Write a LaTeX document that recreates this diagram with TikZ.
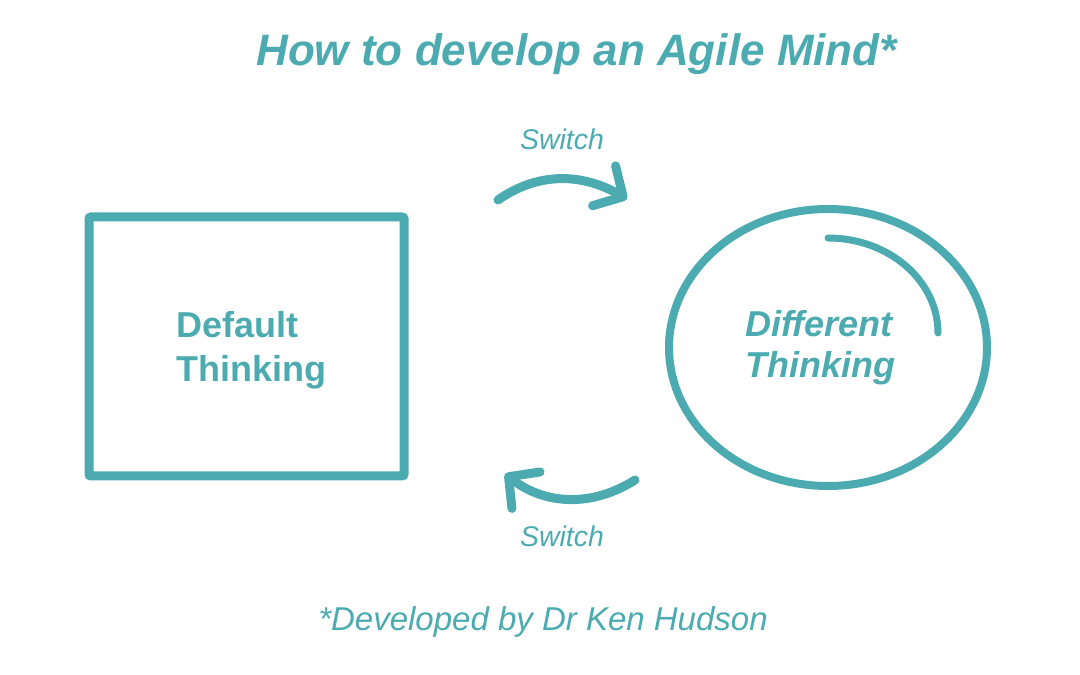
\documentclass[tikz,border=0pt]{standalone}
\usepackage{fontspec}
\setmainfont{Liberation Sans}
\usetikzlibrary{arrows.meta, shapes.geometric, calc}
\definecolor{tealcol}{HTML}{4CABB0}

\begin{document}
\begin{tikzpicture}[x=1pt, y=1pt,
    mindbox/.style={draw=tealcol, line width=9pt, rounded corners=2pt,
                    minimum width=315pt, minimum height=259pt, align=left,
                    text=tealcol, font=\bfseries\fontsize{36}{44}\selectfont},
    mindring/.style={ellipse, draw=tealcol, line width=8pt,
                     minimum width=318pt, minimum height=277pt, align=left,
                     text=tealcol, font=\bfseries\itshape\fontsize{36}{41}\selectfont},
    headline/.style={anchor=base, text=tealcol},
    switchlabel/.style={anchor=base, text=tealcol,
                        font=\itshape\fontsize{28.5}{34}\selectfont},
    switcharrow/.style={-{Straight Barb[length=22pt, width=46pt, round]},
                        draw=tealcol, line width=9pt, line cap=round}
  ]

  % ---- Canvas ----
  \useasboundingbox (0,0) rectangle (1080,675);

  % ---- Title ----
  \node[headline, font=\bfseries\itshape\fontsize{44}{52}\selectfont]
    (title) at (576.5, 609) {How to develop an Agile Mind*};

  % ---- The two ways of thinking ----
  \node[mindbox] (default) at (246.5, 328.5)
    {\rule{0pt}{34pt}\hspace*{10pt}Default\\\hspace*{10pt}Thinking};
  \node[mindring] (different) at (828, 327.5)
    {Different\hspace*{16pt}\\Thinking\hspace*{16pt}};
  % open arc inside the ring
  \draw[tealcol, line width=7pt, line cap=round]
    ($(different.center)+(0,109.5)$)
    arc[start angle=90, end angle=0, x radius=110, y radius=95];

  % ---- Switch arrows ----
  \coordinate (swtop-start) at (498, 475);
  \coordinate (swtop-end)   at (627, 476);
  \draw[switcharrow] (swtop-start) to[out=35, in=150] (swtop-end);
  \node[switchlabel] (swtop-label) at (562, 525) {Switch};

  \coordinate (swbot-start) at (635, 195);
  \coordinate (swbot-end)   at (505, 201);
  \draw[switcharrow] (swbot-start) to[bend left=35] (swbot-end);
  \node[switchlabel] (swbot-label) at (562, 128) {Switch};

  % ---- Credit ----
  \node[headline, font=\itshape\fontsize{33}{40}\selectfont]
    (credit) at (543, 44) {*Developed by Dr Ken Hudson};

\end{tikzpicture}
\end{document}
